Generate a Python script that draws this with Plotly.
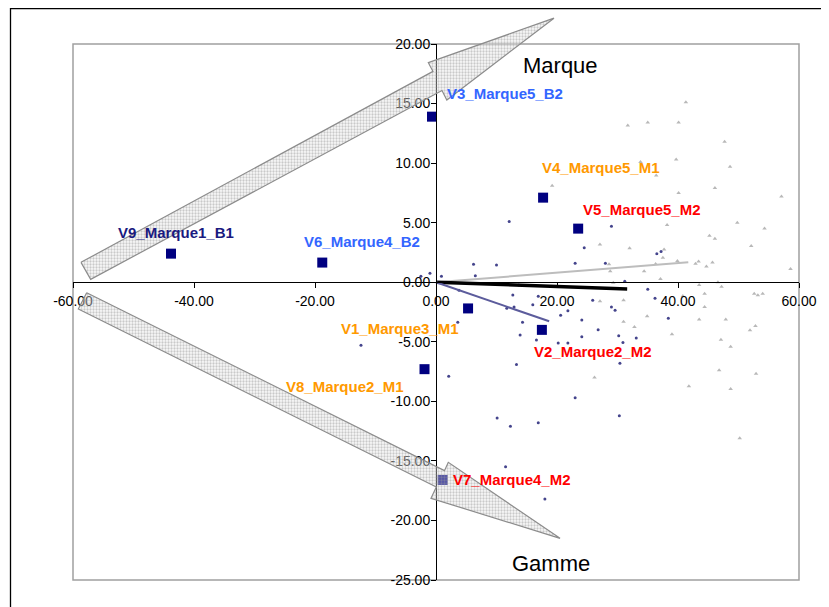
import plotly.graph_objects as go

# ---------------- data ----------------
point_names = ["V1_Marque3_M1", "V2_Marque2_M2", "V3_Marque5_B2", "V4_Marque5_M1",
               "V5_Marque5_M2", "V6_Marque4_B2", "V7_Marque4_M2", "V8_Marque2_M1",
               "V9_Marque1_B1"]
point_x = [5.3, 17.5, -0.66, 17.7, 23.5, -18.8, 1.1, -1.9, -43.8]
point_y = [-2.2, -4.0, 13.9, 7.1, 4.5, 1.65, -16.6, -7.3, 2.4]

dots_x = [12.1, 29.0, 24.5, 6.2, 10.0, 23.0, 28.0, -1.0, 0.9, 6.5, 36.5, 37.2, 13.7, 3.8,
          12.7, 16.9, 16.0, 12.9, 11.7, 25.9, 29.0, 20.6, 21.8, 24.1, 14.3, 3.6, 13.9,
          16.6, 20.2, 21.8, 24.1, 26.8, 13.3, 2.1, 23.0, 10.1, 12.3, 16.9, 30.3, 30.4,
          30.2, 29.6, 35.0, 36.2, 38.4, 33.1, 31.2, 30.9, -2.5, -12.4, 11.5, 18.0]
dots_y = [5.1, 4.7, 2.9, 1.5, 1.45, 1.6, 1.6, 0.75, 0.5, 0.55, 2.4, 2.57, -0.23, -0.68,
          -1.07, -1.18, -1.9, -2.08, -2.19, -1.52, -2.08, -2.78, -2.39, -3.17, -3.37,
          -3.37, -4.43, -4.85, -5.1, -5.1, -4.57, -3.98, -6.9, -7.9, -9.7, -11.4, -12.1,
          -11.8, -11.2, -6.8, -4.5, -2.36, -0.6, -1.35, -3.03, -4.68, 0.08, -5.07, 0.5,
          -5.3, -15.5, -18.2]

tri_x = [41.3, 31.7, 35.0, 40.1, 47.7, 39.7, 48.6, 33.8, 36.4, 40.1, 46.1, 57.1, 38.2,
         49.8, 54.3, 45.2, 46.1, 52.1, 32.0, 37.7, 37.5, 36.3, 34.4, 39.9, 42.9, 43.4,
         44.7, 45.7, 58.6, 37.1, 19.2, 27.1, 28.6, 28.8, 29.3, 46.6, 47.2, 43.5, 44.4,
         44.4, 27.1, 31.0, 52.6, 53.2, 54.0, 34.9, 43.5, 47.9, 40.8, 31.0, 32.8, 39.0,
         51.9, 52.8, 47.1, 48.7, 46.8, 52.9, 41.8, 48.7, 50.2, 26.2]
tri_y = [15.1, 13.15, 13.4, 13.4, 11.8, 10.3, 9.7, 10.1, 8.95, 7.5, 7.9, 7.2, 4.8, 5.0,
         4.5, 3.9, 3.66, 3.04, 2.85, 2.74, 2.06, 1.53, 0.92, 1.78, 1.56, 1.73, 1.31,
         1.65, 1.11, 0.27, 8.1, 3.16, 1.5, 0.92, -0.04, 0.0, -0.37, -0.23, -0.96, -2.08,
         -1.6, -1.52, -0.96, -1.1, -0.96, -2.86, -3.14, -3.14, -1.16, -3.31, -3.76,
         -4.37, -4.04, -3.68, -4.82, -5.41, -7.4, -7.68, -8.74, -8.96, -13.1, -8.0]

# axis vectors from origin
vec_end_x = [41.7, 31.6, 18.7]
vec_end_y = [1.67, -0.57, -3.28]

x_ticks = [-60, -40, -20, 0, 20, 40, 60]
y_ticks = [20, 15, 10, 5, 0, -5, -10, -15, -20, -25]
x_tick_labels = [f"{v:.2f}" for v in x_ticks]
y_tick_labels = [f"{v:.2f}" for v in y_ticks]

arrow_labels = ["Marque", "Gamme"]

# --------------- styles / positions ---------------
OFF = 8                      # page body margin of the HTML output
W, H = 829 - OFF, 607 - OFF
L_PX, R_PX, T_PX, B_PX = 73 - OFF, 799 - OFF, 44 - OFF, 580 - OFF
XR = [-60, 60]
YR = [-25, 20]
sx = (R_PX - L_PX) / (XR[1] - XR[0])
sy = (B_PX - T_PX) / (YR[1] - YR[0])

FONT = "Liberation Sans, Arial, sans-serif"
label_colors = ["#FF9900", "#FF0000", "#3366FF", "#FF9900", "#FF0000", "#3366FF",
                "#FF0000", "#FF9900", "#1A1A80"]
label_shift = [(-68, -20), (51, -22), (73, 23), (58, 30), (64, 19), (40, 21),
               (69, 0), (-80, -17), (5, 21)]

# decorative block arrows (in chart units)
arrow_top = [(-58.68, 1.67), (-0.50, 17.70), (-1.27, 18.43), (19.50, 22.17),
             (1.79, 15.30), (0.99, 16.09), (-57.08, 0.24)]
arrow_bot = [(-57.74, -0.88), (1.40, -15.82), (2.03, -15.12), (20.50, -21.50),
             (-0.83, -18.14), (0.05, -17.19), (-59.12, -2.25)]

fig = go.Figure()

fig.add_trace(go.Scatter(x=tri_x, y=tri_y, mode="markers",
                         marker=dict(symbol="triangle-up", size=4, color="#b8b8b8"),
                         hoverinfo="skip", showlegend=False))
fig.add_trace(go.Scatter(x=dots_x, y=dots_y, mode="markers",
                         marker=dict(symbol="circle", size=3, color="#44448c"),
                         hoverinfo="skip", showlegend=False))

vec_colors = ["#bdbdbd", "#000000", "#5c5c9c"]
vec_widths = [2, 3.5, 2]
for ex, ey, c, w in zip(vec_end_x, vec_end_y, vec_colors, vec_widths):
    fig.add_trace(go.Scatter(x=[0, ex], y=[0, ey], mode="lines",
                             line=dict(color=c, width=w), hoverinfo="skip",
                             showlegend=False))

fig.add_trace(go.Scatter(x=point_x, y=point_y, mode="markers",
                         marker=dict(symbol="square", size=10, color="#000080"),
                         text=point_names, hoverinfo="text", showlegend=False))

# arrows on a full-figure overlay subplot with the same unit scale
for arr in (arrow_top, arrow_bot):
    ax_ = [p[0] for p in arr] + [arr[0][0]]
    ay_ = [p[1] for p in arr] + [arr[0][1]]
    fig.add_trace(go.Scatter(x=ax_, y=ay_, xaxis="x2", yaxis="y2", mode="lines",
                             fill="toself", fillcolor="rgba(215,215,215,0.4)",
                             fillpattern=dict(shape=".", size=3, solidity=0.45,
                                              fgcolor="#9a9a9a",
                                              bgcolor="rgba(236,236,236,0.35)"),
                             line=dict(color="#8c8c8c", width=1.2),
                             hoverinfo="skip", showlegend=False))

annotations = []
for n, x, y, c, (dx, dy) in zip(point_names, point_x, point_y, label_colors, label_shift):
    annotations.append(dict(x=x, y=y, xref="x", yref="y", text=n, showarrow=False,
                            xshift=dx, yshift=dy,
                            font=dict(family=FONT, size=15, color=c, weight="bold")))

title_pos = [(560 - OFF, 66 - OFF), (551 - OFF, 563 - OFF)]
for t, (px, py) in zip(arrow_labels, title_pos):
    annotations.append(dict(x=XR[0] + (px - L_PX) / sx, y=YR[1] - (py - T_PX) / sy,
                            xref="x", yref="y", text=t, showarrow=False,
                            font=dict(family=FONT, size=22, color="black")))

shapes = [
    dict(type="rect", xref="x domain", yref="y domain", x0=0, x1=1, y0=0, y1=1,
         line=dict(color="#a0a0a0", width=1.5), layer="below"),
    dict(type="rect", xref="paper", yref="paper", x0=(10.5 - OFF) / W, x1=1.02,
         y0=-0.02, y1=1 - (8 - OFF) / H - 0.5 / H, line=dict(color="black", width=1.3)),
]

x0_px = L_PX + (0 - XR[0]) * sx
y0_px = T_PX + (YR[1] - 0) * sy

fig.update_layout(
    width=W, height=H,
    margin=dict(l=0, r=0, t=0, b=0),
    paper_bgcolor="white", plot_bgcolor="rgba(0,0,0,0)",
    font=dict(family=FONT, color="black"),
    showlegend=False,
    annotations=annotations, shapes=shapes,
    xaxis=dict(domain=[L_PX / W, R_PX / W], range=XR, anchor="free",
               position=1 - y0_px / H, tickvals=x_ticks, ticktext=x_tick_labels,
               ticks="outside", ticklen=5, tickcolor="black", showline=True,
               linecolor="black", linewidth=1, showgrid=False, zeroline=False,
               tickfont=dict(size=14, family=FONT, color="black"),
               ticklabelstandoff=1, automargin=False),
    yaxis=dict(domain=[1 - B_PX / H, 1 - T_PX / H], range=YR, anchor="free",
               position=x0_px / W, tickvals=y_ticks, ticktext=y_tick_labels,
               ticks="outside", ticklen=5, tickcolor="black", showline=True,
               linecolor="black", linewidth=1, showgrid=False, zeroline=False,
               tickfont=dict(size=14, family=FONT, color="black"),
               ticklabelstandoff=-2, automargin=False),
    xaxis2=dict(domain=[0, 1], range=[XR[0] - L_PX / sx, XR[1] + (W - R_PX) / sx],
                anchor="y2", visible=False, fixedrange=True),
    yaxis2=dict(domain=[0, 1], range=[YR[0] - (H - B_PX) / sy, YR[1] + T_PX / sy],
                anchor="x2", visible=False, fixedrange=True),
)

fig.write_html("out.html")
